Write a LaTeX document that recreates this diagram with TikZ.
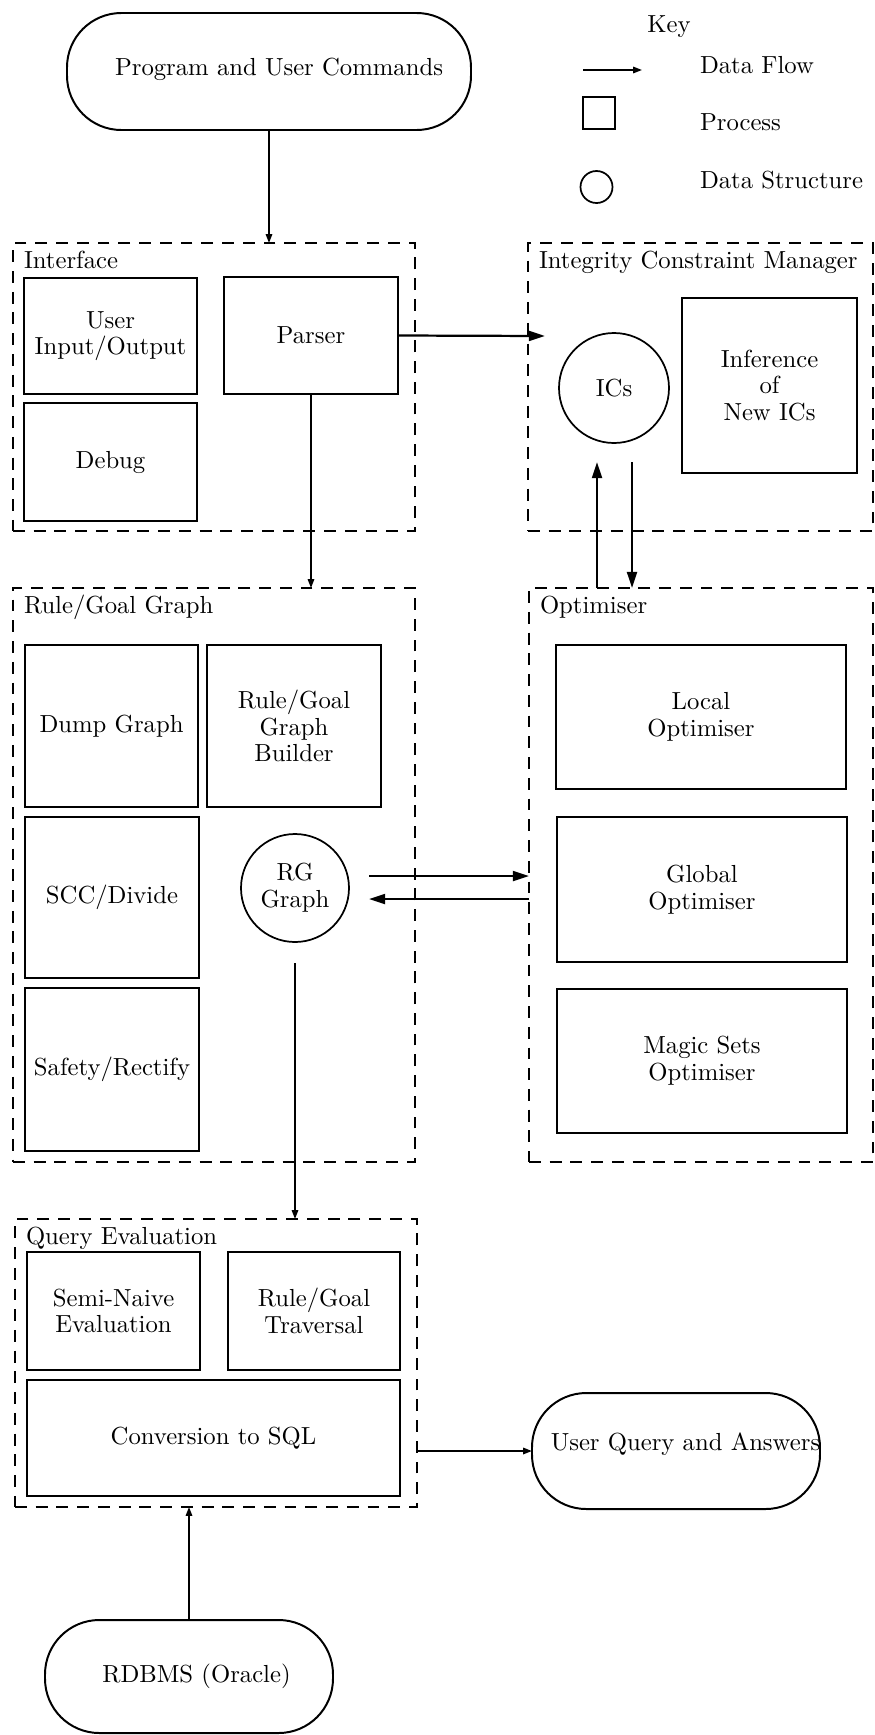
\documentclass[tikz,border=0pt]{standalone}
\usetikzlibrary{arrows.meta}
% one drawing unit = one pixel of the layout grid
\newcommand{\pxu}{0.405pt}
% process box given by its corners: name, x1, y1, x2, y2, text
\newcommand{\pbox}[6]{%
  \node[proc, minimum width={(#4-#2)*\pxu}, minimum height={(#5-#3)*\pxu}]
    (#1) at ({(#2+#4)/2},{(#3+#5)/2}) {#6};}
% dashed module frame with its title in the top left corner
\newcommand{\gbox}[6]{%
  \node[group, minimum width={(#4-#2)*\pxu}, minimum height={(#5-#3)*\pxu}]
    (#1) at ({(#2+#4)/2},{(#3+#5)/2}) {};
  \node[anchor=base west] (#1-title) at ({#2+11},{#3+25}) {#6};}
\begin{document}
\begin{tikzpicture}[x=0.405pt, y=-0.405pt,
  every node/.style={font=\fontsize{10pt}{10.8pt}\selectfont, inner sep=0pt, outer sep=0pt},
  proc/.style={draw, line width=0.8pt, align=center},
  group/.style={draw, line width=1pt, dash pattern=on 4.8pt off 3.6pt},
  store/.style={draw, circle, line width=0.7pt, align=center},
  terminal/.style={draw, line width=0.8pt, rounded corners=22pt},
  flow/.style={line width=0.7pt, -{Triangle[length=3.6pt,width=2.6pt]}},
  bigflow/.style={line width=0.9pt, -{Triangle[length=6.5pt,width=4pt]}},
]
\useasboundingbox (0,0) rectangle (875,1735);

% ---- key ----
\node[anchor=base] (keyttl) at (669,32) {Key};
\coordinate (kfa) at (583,70);
\coordinate (kfb) at (642,70);
\draw[flow] (kfa) -- (kfb);
\node[anchor=base west] (kflow) at (700,73) {Data Flow};
\node[proc, minimum width=32*\pxu, minimum height=32*\pxu] (kproc) at (599,113) {};
\node[anchor=base west] (kproct) at (700,130) {Process};
\node[store, minimum size=32*\pxu] (kstore) at (596.5,187) {};
\node[anchor=base west] (kstoret) at (700,188) {Data Structure};

% ---- external terminals ----
\node[terminal, minimum width=404*\pxu, minimum height=117*\pxu] (prog) at (269,71.5) {};
\node[anchor=base] (progt) at (279,75) {Program and User Commands};
\node[terminal, minimum width=288*\pxu, minimum height=116*\pxu] (uq) at (676,1451) {};
\node[anchor=base] (uqt) at (685.5,1450) {User Query and Answers};
\node[terminal, minimum width=288*\pxu, minimum height=113*\pxu] (rdbms) at (189,1676.5) {};
\node[anchor=base] (rdbmst) at (196.5,1682) {RDBMS (Oracle)};

% ---- Interface ----
\gbox{iface}{13}{243}{415}{531}{Interface}
\pbox{uio}{24}{278}{197}{394}{User\\Input/Output}
\pbox{parser}{224}{277}{398}{394}{Parser}
\pbox{debug}{24}{403}{197}{521}{Debug}

% ---- Integrity Constraint Manager ----
\gbox{icm}{528}{243}{873}{531}{Integrity Constraint Manager}
\node[store, minimum size=110*\pxu] (ics) at (614,388) {ICs};
\pbox{infer}{682}{298}{857}{473}{Inference\\of\\New ICs}

% ---- Rule/Goal Graph ----
\gbox{rgg}{13}{588}{415}{1162}{Rule/Goal Graph}
\pbox{dump}{25}{645}{198}{807}{Dump Graph}
\pbox{build}{207}{645}{381}{807}{Rule/Goal\\Graph\\Builder}
\pbox{scc}{25}{817}{199}{978}{SCC/Divide}
\pbox{safe}{25}{988}{199}{1151}{Safety/Rectify}
\node[store, minimum size=108*\pxu] (rg) at (295,888) {RG\\Graph};

% ---- Optimiser ----
\gbox{opt}{529}{588}{873}{1162}{Optimiser}
\pbox{local}{556}{645}{846}{789}{Local\\Optimiser}
\pbox{global}{557}{817}{847}{962}{Global\\Optimiser}
\pbox{magic}{557}{989}{847}{1133}{Magic Sets\\Optimiser}

% ---- Query Evaluation ----
\gbox{qe}{15}{1219}{417}{1507}{Query Evaluation}
\pbox{semi}{27}{1252}{200}{1370}{Semi-Naive\\Evaluation}
\pbox{trav}{228}{1252}{400}{1370}{Rule/Goal\\Traversal}
\pbox{sql}{27}{1380}{400}{1496}{Conversion to SQL}

% ---- data flows ----
\coordinate (icin) at (545,336);
\coordinate (icsup) at (597,462);
\coordinate (icsdn) at (632,462);
\coordinate (rgout) at (369,876);
\coordinate (rgin) at (369,899);
\coordinate (rgdown) at (295,963);

\draw[flow] (prog.south) -- (prog.south |- iface.north);
\draw[bigflow] (parser.east) -- (icin);
\draw[flow] (parser.south) -- (parser.south |- rgg.north);
\draw[bigflow] (icsup |- opt.north) -- (icsup);
\draw[bigflow] (icsdn) -- (icsdn |- opt.north);
\draw[bigflow] (rgout) -- (rgout -| opt.west);
\draw[bigflow] (rgin -| opt.west) -- (rgin);
\draw[flow] (rgdown) -- (rgdown |- qe.north);
\draw[flow] (uq.west -| qe.east) -- (uq.west);
\draw[flow] (rdbms.north) -- (rdbms.north |- qe.south);
\end{tikzpicture}
\end{document}
